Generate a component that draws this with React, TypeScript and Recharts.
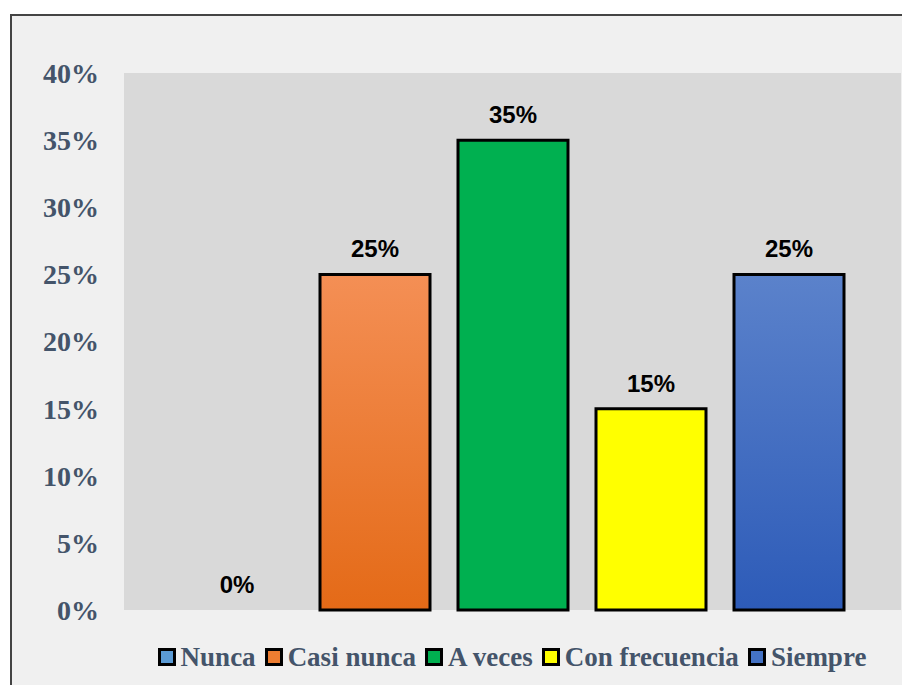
import { ComposedChart, Bar, Line, XAxis, YAxis, CartesianGrid, Cell, LabelList } from "recharts";

const categories = ["Nunca", "Casi nunca", "A veces", "Con frecuencia", "Siempre"];
const values = [0, 25, 35, 15, 25];
const yTicks = [0, 5, 10, 15, 20, 25, 30, 35, 40];

// fills: [top, bottom] for gradient
const barColors = [
  ["#5b9bd5", "#5b9bd5"],
  ["#f48f55", "#e46a17"],
  ["#00b050", "#00b050"],
  ["#ffff00", "#ffff00"],
  ["#5b82cb", "#2d5bb8"],
];
const legendColors = ["#5b9bd5", "#ed7d31", "#00b050", "#ffff00", "#4472c4"];

const data = categories.map((name, i) => ({ name, value: values[i] }));

export default function App() {
  return (
    <div style={{ position: "absolute", left: 0, top: 0, width: 902, height: 685, background: "#fff", overflow: "hidden" }}>
      <div
        style={{
          position: "absolute",
          left: 10,
          top: 14,
          width: 900,
          height: 690,
          border: "2px solid #444",
          background: "#f0f0f0",
        }}
      />
      <div style={{ position: "absolute", left: 0, top: 0 }}>
        <ComposedChart width={902} height={685} data={data} margin={{ top: 73, right: 1, bottom: 75, left: 64 }}>
          <defs>
            {barColors.map((c, i) => (
              <linearGradient key={i} id={`grad${i}`} x1="0" y1="0" x2="0" y2="1">
                <stop offset="0%" stopColor={c[0]} />
                <stop offset="100%" stopColor={c[1]} />
              </linearGradient>
            ))}
          </defs>
          <CartesianGrid fill="#d9d9d9" horizontal={false} vertical={false} stroke="none" />
          <XAxis dataKey="name" hide padding={{ left: 44, right: 43 }} />
          <YAxis
            width={60}
            domain={[0, 40]}
            ticks={yTicks}
            interval={0}
            axisLine={false}
            tickLine={false}
            tickSize={0}
            tickMargin={25}
            tickFormatter={(v: number) => `${v}%`}
            tick={{ fill: "#44546a", fontFamily: "Liberation Serif", fontWeight: 700, fontSize: 28 }}
          />
          <Bar dataKey="value" barSize={110} stroke="#000" strokeWidth={3} isAnimationActive={false}>
            {data.map((d, i) => (
              <Cell key={d.name} fill={`url(#grad${i})`} stroke={d.value === 0 ? "none" : "#000"} />
            ))}
          </Bar>
          {/* invisible line just to carry the value labels (including the 0%) */}
          <Line dataKey="value" stroke="none" dot={false} activeDot={false} isAnimationActive={false}>
            <LabelList
              dataKey="value"
              position="top"
              offset={17}
              formatter={(v: any) => `${v}%`}
              style={{ fill: "#000", fontFamily: "Liberation Sans", fontWeight: 700, fontSize: 24 }}
            />
          </Line>
        </ComposedChart>
      </div>
      <div
        style={{
          position: "absolute",
          left: 0,
          width: 1024,
          top: 639,
          height: 36,
          display: "flex",
          justifyContent: "center",
          alignItems: "center",
          fontFamily: "Liberation Serif",
          fontWeight: 700,
          fontSize: 27,
          color: "#44546a",
          whiteSpace: "nowrap",
        }}
      >
        {categories.map((name, i) => (
          <div key={name} style={{ display: "flex", alignItems: "center", marginRight: i < categories.length - 1 ? 9 : 0 }}>
            <span
              style={{
                display: "inline-block",
                width: 12,
                height: 12,
                border: "3px solid #000",
                background: legendColors[i],
                marginRight: 5,
              }}
            />
            <span>{name}</span>
          </div>
        ))}
      </div>
    </div>
  );
}
